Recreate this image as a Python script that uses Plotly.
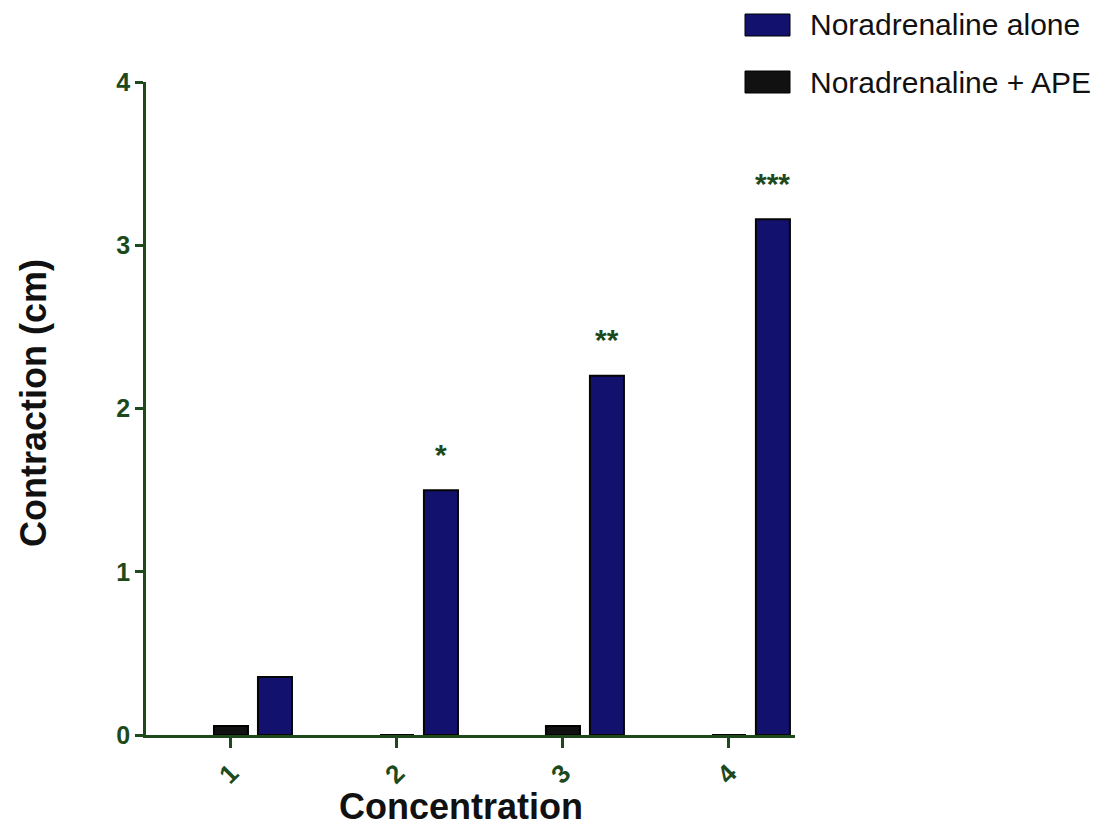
import plotly.graph_objects as go

concentration = [1, 2, 3, 4]
nor_alone = [0.355, 1.50, 2.20, 3.16]
nor_ape = [0.055, 0.0, 0.055, 0.0]
significance = ["", "*", "**", "***"]
y_ticks = [0, 1, 2, 3, 4]

GREEN = "#1c4a1c"
NAVY = "#12126e"
BAR_W = 0.205
BLUE_SHIFT = 0.265

OFF = 8  # page body margin offset
FW, FH = 1104 - OFF, 831 - OFF
L, T = 146 - OFF, 82 - OFF
PW, PH = 649, 653
R, B = FW - L - PW, FH - T - PH


def px(x):
    return (x - OFF - L) / PW


def py(y):
    return (T + PH - (y - OFF)) / PH


fig = go.Figure()
fig.add_trace(go.Bar(
    x=concentration, y=nor_ape, name="Noradrenaline + APE",
    width=BAR_W, offset=-BAR_W / 2,
    marker=dict(color="#111111", line=dict(color="#000000", width=2)),
))
fig.add_trace(go.Bar(
    x=concentration, y=nor_alone, name="Noradrenaline alone",
    width=BAR_W, offset=BLUE_SHIFT - BAR_W / 2,
    marker=dict(color=NAVY, line=dict(color="#050505", width=2)),
))

for c, v, s in zip(concentration, nor_alone, significance):
    if s:
        fig.add_annotation(x=c + BLUE_SHIFT, y=v, text=s, showarrow=False,
                           yshift=36, font=dict(family="Liberation Sans", size=30,
                                                color=GREEN, weight="bold"))

# legend drawn manually
legend_items = [("Noradrenaline alone", NAVY), ("Noradrenaline + APE", "#111111")]
for i, (name, col) in enumerate(legend_items):
    yc = 25 + i * 57
    fig.add_shape(type="rect", xref="paper", yref="paper",
                  x0=px(745), x1=px(790), y0=py(yc - 11), y1=py(yc + 11),
                  fillcolor=col, line=dict(color="#000000", width=1))
    fig.add_annotation(xref="paper", yref="paper", x=px(808), y=py(yc),
                       text=name, showarrow=False, xanchor="left", yanchor="middle",
                       font=dict(family="Liberation Sans", size=30, color="#111111"))

# axis titles
fig.add_annotation(xref="paper", yref="paper", x=px(33), y=py(403), text="Contraction (cm)",
                   textangle=-90, showarrow=False, xanchor="center", yanchor="middle",
                   font=dict(family="Liberation Sans", size=36, color="#111111", weight="bold"))
fig.add_annotation(xref="paper", yref="paper", x=px(461), y=py(806), text="Concentration",
                   showarrow=False, xanchor="center", yanchor="middle",
                   font=dict(family="Liberation Sans", size=36, color="#111111", weight="bold"))

fig.update_layout(
    width=FW, height=FH,
    margin=dict(l=L, r=R, t=T, b=B),
    paper_bgcolor="white", plot_bgcolor="white",
    showlegend=False, barmode="overlay",
    font=dict(family="Liberation Sans"),
)
fig.update_xaxes(
    range=[0.488, 4.398], tickvals=concentration, ticktext=[str(c) for c in concentration],
    tickangle=-45, showgrid=False, zeroline=False, automargin=False,
    showline=True, linecolor=GREEN, linewidth=2.5,
    ticks="outside", ticklen=10, tickwidth=2.5, tickcolor=GREEN,
    tickfont=dict(family="Liberation Sans", size=26, color=GREEN, weight="bold"),
)
fig.update_yaxes(
    range=[0, 4], tickvals=y_ticks, showgrid=False, zeroline=False, automargin=False,
    showline=True, linecolor=GREEN, linewidth=2.5,
    ticks="outside", ticklen=8, tickwidth=2.5, tickcolor=GREEN,
    tickfont=dict(family="Liberation Sans", size=25, color=GREEN, weight="bold"),
)

fig.write_html("out.html")
